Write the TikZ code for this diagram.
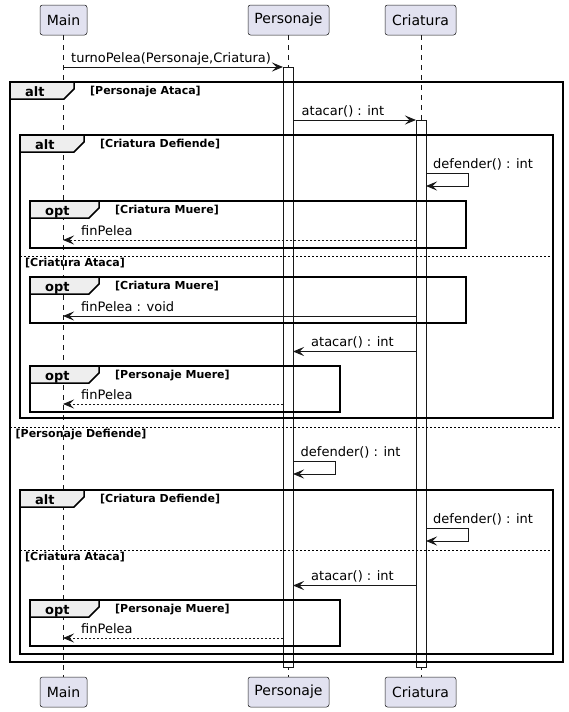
\documentclass[tikz,border=0pt]{standalone}
\usepackage{fontspec}
\setmainfont{DejaVu Sans}
\usetikzlibrary{arrows.meta}
\definecolor{partfill}{HTML}{E2E2F0}
\definecolor{ink}{HTML}{181818}
\definecolor{hdrfill}{HTML}{EEEEEE}
\newcommand{\grphdr}[4]{% x, y, w, label
  \draw[hdrbox] (#1,#2) -- ({#1+#3},#2) -- ({#1+#3},{#2+7}) -- ({#1+#3-10},{#2+17}) -- (#1,{#2+17}) -- cycle;
  \node[hdrtext] (h#4) at ({#1+15},{#2+14.5}) {#4};}
\begin{document}
\begin{tikzpicture}[x=1pt,y=-1pt,
  participant/.style={draw=ink, fill=partfill, rounded corners=2.5pt, line width=0.5pt,
    minimum height=30pt, inner sep=0pt, font=\fontsize{14}{16}\selectfont},
  lifeline/.style={draw=ink, line width=0.5pt, dash pattern=on 5pt off 5pt},
  actbar/.style={draw=ink, fill=white, line width=1pt},
  msg/.style={draw=ink, line width=1pt, -{Stealth[length=11pt,width=9pt,inset=4.5pt]}},
  reply/.style={msg, dash pattern=on 2pt off 2pt},
  frame/.style={draw=black, line width=1.5pt},
  hdrbox/.style={draw=black, fill=hdrfill, line width=1.5pt},
  hdrtext/.style={anchor=base west, inner sep=0pt, font=\bfseries\fontsize{13}{15}\selectfont},
  guard/.style={anchor=base west, inner sep=0pt, font=\bfseries\fontsize{11}{13}\selectfont},
  sep/.style={draw=black, line width=1pt, dash pattern=on 2pt off 2pt},
  mlabel/.style={anchor=base west, inner sep=0pt, font=\fontsize{13}{15}\selectfont}
]
\useasboundingbox (0,0) rectangle (569,712);

% participants
\node[participant, minimum width=47pt] (mainT) at (63.5,20) {Main};
\node[participant, minimum width=81pt] (persT) at (288.5,20) {Personaje};
\node[participant, minimum width=71pt] (criaT) at (420.5,20) {Criatura};
\node[participant, minimum width=47pt] (mainB) at (63.5,692) {Main};
\node[participant, minimum width=81pt] (persB) at (288.5,692) {Personaje};
\node[participant, minimum width=71pt] (criaB) at (420.5,692) {Criatura};

% lifelines
\draw[lifeline] (63,35) -- (63,677);
\draw[lifeline] (288,35) -- (288,677);
\draw[lifeline] (421,35) -- (421,677);

% activation bars
\node[actbar, minimum width=10pt, minimum height=600pt, inner sep=0pt, anchor=north] (actP) at (288,67) {};
\node[actbar, minimum width=10pt, minimum height=547pt, inner sep=0pt, anchor=north] (actC) at (421,120) {};

% frames
\draw[frame] (10,82) rectangle (563,662);
\grphdr{10}{82}{64}{alt}
\node[guard] (g1) at (90,94.5) {[Personaje Ataca]};

\draw[frame] (20,135) rectangle (553,418);
\grphdr{20}{135}{64}{alt}
\node[guard] (g2) at (100,147.5) {[Criatura Defiende]};

\draw[frame] (30,201) rectangle (466,248);
\grphdr{30}{201}{69}{opt}
\node[guard] (g3) at (115,213.5) {[Criatura Muere]};

\draw[sep] (20,256) -- (553,256);
\node[guard] (g4) at (25,266) {[Criatura Ataca]};

\draw[frame] (30,277) rectangle (466,323);
\grphdr{30}{277}{69}{opt}
\node[guard] (g5) at (115,289.5) {[Criatura Muere]};

\draw[frame] (30,366) rectangle (340,412);
\grphdr{30}{366}{69}{opt}
\node[guard] (g6) at (115,378.5) {[Personaje Muere]};

\draw[sep] (10,427) -- (563,427);
\node[guard] (g7) at (15.5,437) {[Personaje Defiende]};

\draw[frame] (20,490) rectangle (553,654);
\grphdr{20}{490}{64}{alt}
\node[guard] (g8) at (100,502.5) {[Criatura Defiende]};

\draw[sep] (20,550) -- (553,550);
\node[guard] (g9) at (25,560) {[Criatura Ataca]};

\draw[frame] (30,600) rectangle (340,646);
\grphdr{30}{600}{69}{opt}
\node[guard] (g10) at (115,612.5) {[Personaje Muere]};

% message end points
\coordinate (m1s) at (63,67);   \coordinate (m1e) at (283,67);
\coordinate (m2s) at (293,120); \coordinate (m2e) at (416,120);
\coordinate (m3s) at (426,173); \coordinate (m3e) at (426,186);
\coordinate (m4s) at (416,240); \coordinate (m4e) at (63,240);
\coordinate (m5s) at (416,316); \coordinate (m5e) at (63,316);
\coordinate (m6s) at (416,351.5); \coordinate (m6e) at (293,351.5);
\coordinate (m7s) at (283,404); \coordinate (m7e) at (63,404);
\coordinate (m8s) at (293,461); \coordinate (m8e) at (293,474);
\coordinate (m9s) at (426,528); \coordinate (m9e) at (426,541);
\coordinate (m10s) at (416,585.5); \coordinate (m10e) at (293,585.5);
\coordinate (m11s) at (283,638); \coordinate (m11e) at (63,638);

% messages
\draw[msg] (m1s) -- (m1e);
\node[mlabel] (l1) at (71,62) {turnoPelea(Personaje,Criatura)};
\draw[msg] (m2s) -- (m2e);
\node[mlabel] (l2) at (301.5,115) {atacar() : int};
\draw[msg] (m3s) -- (468,173) -- (468,186) -- (m3e);
\node[mlabel] (l3) at (433,168) {defender() : int};
\draw[reply] (m4s) -- (m4e);
\node[mlabel] (l4) at (81,235) {finPelea};
\draw[msg] (m5s) -- (m5e);
\node[mlabel] (l5) at (81,311) {finPelea : void};
\draw[msg] (m6s) -- (m6e);
\node[mlabel] (l6) at (311,346.5) {atacar() : int};
\draw[reply] (m7s) -- (m7e);
\node[mlabel] (l7) at (81,399) {finPelea};
\draw[msg] (m8s) -- (335,461) -- (335,474) -- (m8e);
\node[mlabel] (l8) at (300.5,456) {defender() : int};
\draw[msg] (m9s) -- (468,528) -- (468,541) -- (m9e);
\node[mlabel] (l9) at (433,523) {defender() : int};
\draw[msg] (m10s) -- (m10e);
\node[mlabel] (l10) at (311,580.5) {atacar() : int};
\draw[reply] (m11s) -- (m11e);
\node[mlabel] (l11) at (81,633) {finPelea};
\end{tikzpicture}
\end{document}
